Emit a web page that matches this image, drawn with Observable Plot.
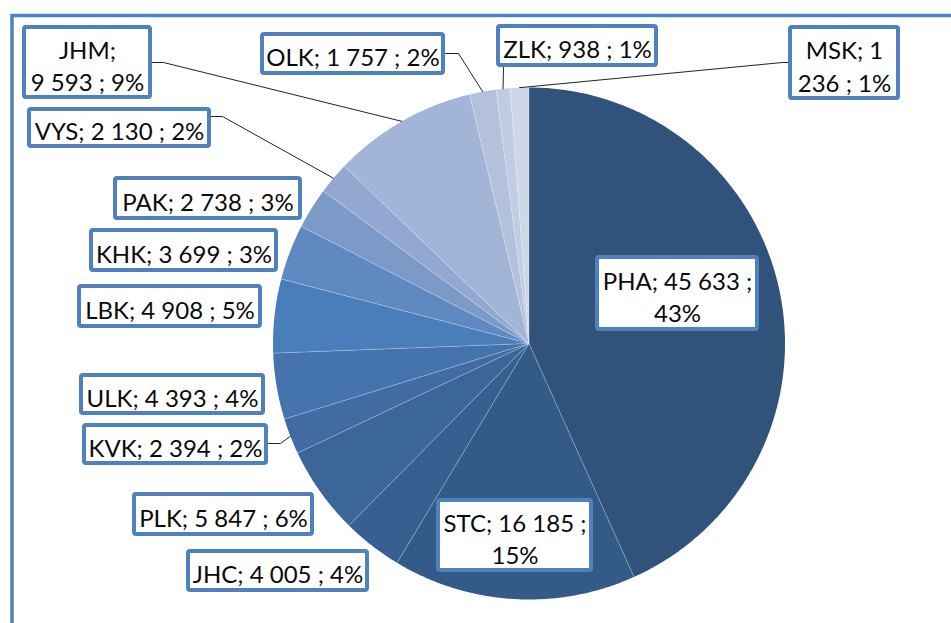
<!DOCTYPE html>
<html><head><meta charset="utf-8">
<script src="https://cdn.jsdelivr.net/npm/d3@7"></script>
<script src="https://cdn.jsdelivr.net/npm/@observablehq/plot@0.6"></script>
<style>html,body{margin:0;padding:0;background:#fff;overflow:hidden}</style>
</head><body><div id="chart"></div>
<script>
// ---- data ----
const regions = ["PHA","STC","JHC","PLK","KVK","ULK","LBK","KHK","PAK","VYS","JHM","OLK","ZLK","MSK"];
const counts  = [45633,16185,4005,5847,2394,4393,4908,3699,2738,2130,9593,1757,938,1236];
const percentLabels = ["43%","15%","4%","6%","2%","4%","5%","3%","3%","2%","9%","2%","1%","1%"];
const palette = ["#31537B","#345A87","#385F8F","#3C6598","#416BA2","#4573AE","#4A7EBB",
                 "#5F89C1","#7B9AC8","#93A8D0","#A3B5D6","#B3C1DD","#C0CCE3","#CED7E8"];

// ---- layout ----
const W = 951, H = 623, CX = 528.5, CY = 343, R = 256;
const labelBoxes = {
  PHA:[595,255,759,331], STC:[436,498,593,572], JHC:[186,549,369,592], PLK:[132,492,314,536],
  KVK:[82,423,268,465],  ULK:[79,373,265,415],  LBK:[77,284,262,328],  KHK:[89,228,278,272],
  PAK:[113,176,302,220], VYS:[27,107,211,148],  JHM:[22,25,152,99],    OLK:[260,32,445,75],
  ZLK:[496,24,658,67],   MSK:[788,25,900,100]
};
const labelWrap = {PHA:13, STC:13, JHM:4, MSK:6};
const leaderStarts = {
  JHM:[[152,62],[163,62]], VYS:[[211,116],[222,116]], OLK:[[445,53],[458,53]],
  ZLK:[[503,67]], MSK:[[788,62],[782,62]], KVK:[[268,443],[280,443]]
};

const fmt = d3.formatLocale({thousands:" ", grouping:[3], decimal:",", currency:["",""]}).format(",d");
const arcs = d3.pie().sort(null).startAngle(0).endAngle(2*Math.PI)(counts);
const pt = (a, r=R) => [CX + r*Math.sin(a), CY - r*Math.cos(a)];

const slicePts = [];
arcs.forEach((a, i) => {
  const n = Math.max(2, Math.ceil((a.endAngle - a.startAngle) / (Math.PI/360)));
  slicePts.push({name: regions[i], x: CX, y: CY});
  for (let k = 0; k <= n; k++) {
    const [x, y] = pt(a.startAngle + (a.endAngle - a.startAngle)*k/n);
    slicePts.push({name: regions[i], x, y});
  }
});
const seps = arcs.map(a => { const [x,y] = pt(a.startAngle); return {x, y}; });

const leaderPts = [];
arcs.forEach((a, i) => {
  const s = leaderStarts[regions[i]];
  if (!s) return;
  s.forEach(([x,y]) => leaderPts.push({name: regions[i], x, y}));
  const [ex, ey] = pt((a.startAngle + a.endAngle)/2);
  leaderPts.push({name: regions[i], x: ex, y: ey});
});

const labels = regions.map((name, i) => {
  let t = `${name}; ${fmt(counts[i])} ; ${percentLabels[i]}`;
  if (labelWrap[name] != null) t = t.slice(0, labelWrap[name]) + "\n" + t.slice(labelWrap[name]+1);
  const b = labelBoxes[name];
  return {name, text: t, x1: b[0]+2, y1: b[1]+2, x2: b[2]-2, y2: b[3]-2, cx: (b[0]+b[2])/2, cy: (b[1]+b[3])/2};
});

const chart = Plot.plot({
  width: W, height: H, margin: 0,
  x: {domain: [0, W], range: [0, W], axis: null},
  y: {domain: [0, H], range: [0, H], axis: null},
  color: {domain: regions, range: palette},
  marks: [
    Plot.rect([0], {x1: 12, y1: 15.5, x2: W + 20, y2: H + 20, fill: "white", stroke: "#4F81BD", strokeWidth: 3.5}),
    Plot.line(slicePts, {x: "x", y: "y", z: "name", fill: "name", stroke: "none", curve: "linear-closed"}),
    Plot.link(seps, {x1: () => CX, y1: () => CY, x2: "x", y2: "y", stroke: "white", strokeOpacity: 0.35, strokeWidth: 0.8}),
    Plot.line(leaderPts, {x: "x", y: "y", z: "name", stroke: "#222", strokeWidth: 1}),
    Plot.rect(labels, {x1: "x1", y1: "y1", x2: "x2", y2: "y2", fill: "white", stroke: "#4F81BD", strokeWidth: 4, rx: 2}),
    Plot.text(labels, {x: "cx", y: "cy", text: "text", fontSize: 24, fontFamily: "Lato", lineHeight: 1.36, fill: "#0a0a0a", dy: 2})
  ]
});
document.getElementById("chart").appendChild(chart);
</script>
</body></html>
